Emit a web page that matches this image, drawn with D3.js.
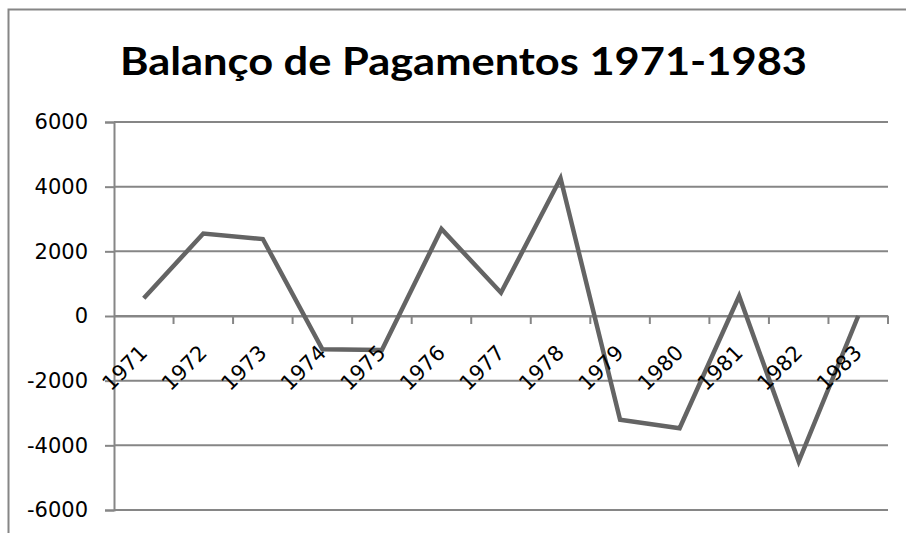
<!DOCTYPE html>
<html>
<head>
<meta charset="utf-8">
<script src="https://cdn.jsdelivr.net/npm/d3@7"></script>
<style>
  body { margin: 0; background: #fff; }
  svg { display: block; }
</style>
</head>
<body>
<div id="chart"></div>
<script>
// dados
const years = ["1971", "1972", "1973", "1974", "1975", "1976", "1977",
  "1978", "1979", "1980", "1981", "1982", "1983"];
const balance = [550, 2550, 2380, -1030, -1050, 2690, 720,
  4260, -3210, -3470, 620, -4500, 0];
const yTicks = [-6000, -4000, -2000, 0, 2000, 4000, 6000];
const title = "Balanço de Pagamentos 1971-1983";

const width = 906;
const height = 533;
const gridColor = "#868686";
const lineColor = "#646464";
const titleFont = "Lato, 'Open Sans', sans-serif";
const labelFont = "'DejaVu Sans', sans-serif";

const svg = d3.select("#chart")
  .append("svg")
  .attr("width", width)
  .attr("height", height);

// moldura
svg.append("rect")
  .attr("x", 8.5)
  .attr("y", 9.5)
  .attr("width", 920)
  .attr("height", 560)
  .attr("fill", "white")
  .attr("stroke", gridColor)
  .attr("stroke-width", 2);

// titulo
svg.append("text")
  .attr("x", 463.5)
  .attr("y", 75)
  .attr("text-anchor", "middle")
  .attr("font-family", titleFont)
  .attr("font-weight", "bold")
  .attr("font-size", 39)
  .attr("textLength", 687)
  .attr("lengthAdjust", "spacingAndGlyphs")
  .text(title);

// escalas
const x = d3.scaleBand()
  .domain(years)
  .range([114, 888]);

const y = d3.scaleLinear()
  .domain([-6000, 6000])
  .range([510, 122]);

// eixo y (hifen simples como no original)
const yAxis = svg.append("g")
  .attr("transform", "translate(114,0)")
  .call(d3.axisLeft(y).tickValues(yTicks).tickSize(9).tickPadding(17)
    .tickFormat((d) => String(d)));

yAxis.select(".domain").attr("stroke", gridColor).attr("stroke-width", 2);
yAxis.selectAll(".tick line").attr("stroke", gridColor).attr("stroke-width", 2);
yAxis.selectAll(".tick text")
  .attr("font-family", labelFont)
  .attr("font-size", 21)
  .attr("fill", "black");

// linhas de grelha
svg.append("g")
  .attr("class", "grid")
  .selectAll("line")
  .data(yTicks)
  .enter()
  .append("line")
  .attr("x1", 114)
  .attr("x2", 888)
  .attr("y1", (d) => y(d))
  .attr("y2", (d) => y(d))
  .attr("stroke", gridColor)
  .attr("stroke-width", 2);

// eixo x em zero
const xAxis = svg.append("g")
  .attr("transform", `translate(0,${y(0)})`)
  .call(d3.axisBottom(x).tickSize(0).tickFormat(""));
xAxis.select(".domain").attr("stroke", gridColor).attr("stroke-width", 2);

// tracos das categorias (nas bordas das bandas)
svg.append("g")
  .selectAll("line")
  .data(years)
  .enter()
  .append("line")
  .attr("x1", (d) => x(d) + x.bandwidth())
  .attr("x2", (d) => x(d) + x.bandwidth())
  .attr("y1", y(0))
  .attr("y2", y(0) + 8)
  .attr("stroke", gridColor)
  .attr("stroke-width", 2);

// linha de dados
const line = d3.line()
  .x((d, i) => x(years[i]) + x.bandwidth() / 2)
  .y((d) => y(d));

svg.append("path")
  .datum(balance)
  .attr("d", line)
  .attr("fill", "none")
  .attr("stroke", lineColor)
  .attr("stroke-width", 4.5)
  .attr("stroke-linejoin", "miter");

// rotulos do eixo x (rodados)
svg.append("g")
  .selectAll("text")
  .data(years)
  .enter()
  .append("text")
  .attr("transform", (d) =>
    `translate(${x(d) + x.bandwidth() / 2 + 5},${y(0) + 38}) rotate(-45)`)
  .attr("text-anchor", "end")
  .attr("font-family", labelFont)
  .attr("font-size", 21)
  .attr("fill", "black")
  .text((d) => d);
</script>
</body>
</html>
